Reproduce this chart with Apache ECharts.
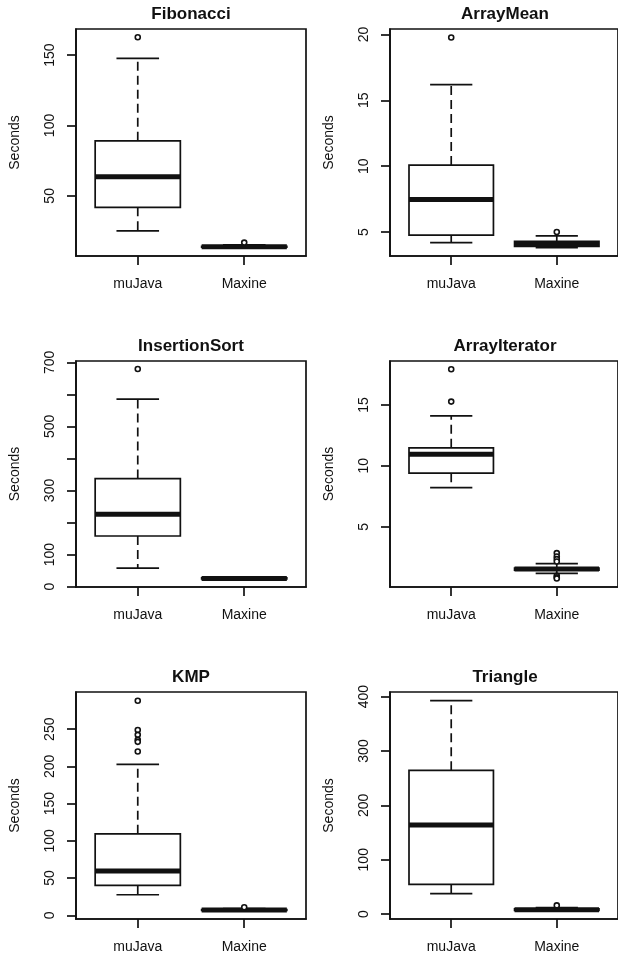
<!DOCTYPE html>
<html>
<head>
<meta charset="utf-8">
<script src="https://cdn.jsdelivr.net/npm/echarts@6/dist/echarts.min.js"></script>
<style>
  html, body { margin: 0; padding: 0; background: #fff; }
  #chart { width: 618px; height: 957px; }
</style>
</head>
<body>
<div id="chart"></div>
<script>
const groups = ["muJava", "Maxine"];

// box rows: [group, lower whisker, Q1, median, Q3, upper whisker]
const fibBox = [[1, 25.1, 41.9, 63.5, 89.1, 147.6], [2, 13.3, 13.5, 13.8, 14.2, 15.2]];
const fibOut = [[1, 162.6], [2, 16.8]];
const meanBox = [[1, 4.19, 4.77, 7.47, 10.08, 16.19], [2, 3.81, 3.9, 4.1, 4.3, 4.7]];
const meanOut = [[1, 19.77], [2, 5.0]];
const sortBox = [[1, 58, 158, 226, 337, 585], [2, 22, 24, 25, 27, 29]];
const sortOut = [[1, 679]];
const iterBox = [[1, 8.22, 9.4, 10.96, 11.48, 14.1], [2, 1.18, 1.45, 1.53, 1.62, 1.97]];
const iterOut = [[1, 17.92], [1, 15.27], [2, 2.84], [2, 2.56], [2, 2.35], [2, 2.15], [2, 0.98], [2, 0.85], [2, 0.76]];
const kmpBox = [[1, 27.6, 40.1, 59.4, 109.4, 202.7], [2, 6, 6.5, 7, 7.6, 9]];
const kmpOut = [[1, 288.3], [1, 249], [1, 242.4], [1, 235.7], [1, 233], [1, 220], [2, 10.7]];
const triBox = [[1, 37.5, 54.5, 163.7, 264.5, 392.6], [2, 6.3, 7, 8, 9.5, 12]];
const triOut = [[2, 16]];

const fibTicks = [50, 100, 150];
const meanTicks = [5, 10, 15, 20];
const sortTicks = [0, 100, 200, 300, 400, 500, 600, 700];
const sortLabels = [0, 100, 300, 500, 700];
const iterTicks = [5, 10, 15];
const kmpTicks = [0, 50, 100, 150, 200, 250];
const triTicks = [0, 100, 200, 300, 400];

const panels = [
  { title: "Fibonacci", box: fibBox, out: fibOut, min: 7.3, max: 168.5, ticks: fibTicks, labels: fibTicks, left: 76, top: 29, height: 227 },
  { title: "ArrayMean", box: meanBox, out: meanOut, min: 3.18, max: 20.41, ticks: meanTicks, labels: meanTicks, left: 390, top: 29, height: 227 },
  { title: "InsertionSort", box: sortBox, out: sortOut, min: -1.2, max: 704, ticks: sortTicks, labels: sortLabels, left: 76, top: 361, height: 226 },
  { title: "ArrayIterator", box: iterBox, out: iterOut, min: 0.06, max: 18.6, ticks: iterTicks, labels: iterTicks, left: 390, top: 361, height: 226 },
  { title: "KMP", box: kmpBox, out: kmpOut, min: -5, max: 300, ticks: kmpTicks, labels: kmpTicks, left: 76, top: 692, height: 227 },
  { title: "Triangle", box: triBox, out: triOut, min: -9, max: 408.5, ticks: triTicks, labels: triTicks, left: 390, top: 692, height: 227 },
];

const font = "Liberation Sans, Arial, Helvetica, sans-serif";
const ink = "#111";
const plotWidth = 230;
const lw = 1.7;

function renderBox(params, api) {
  const x = api.value(0);
  const low = api.coord([x, api.value(1)]);
  const q1 = api.coord([x, api.value(2)]);
  const med = api.coord([x, api.value(3)]);
  const q3 = api.coord([x, api.value(4)]);
  const high = api.coord([x, api.value(5)]);
  const half = api.size([0.4, 0])[0];
  const cap = half / 2;
  const cx = med[0];
  const solid = { stroke: ink, lineWidth: lw, fill: null };
  const dashed = { stroke: ink, lineWidth: lw, lineDash: [9, 5] };
  const seg = (x1, y1, x2, y2, style) => ({ type: "line", shape: { x1, y1, x2, y2 }, style });
  return {
    type: "group",
    children: [
      seg(cx, q3[1], cx, high[1], dashed),
      seg(cx, q1[1], cx, low[1], dashed),
      seg(cx - cap, high[1], cx + cap, high[1], solid),
      seg(cx - cap, low[1], cx + cap, low[1], solid),
      { type: "rect", shape: { x: cx - half, y: q3[1], width: half * 2, height: q1[1] - q3[1] }, style: { stroke: ink, lineWidth: lw, fill: "#fff" } },
      seg(cx - half, med[1], cx + half, med[1], { stroke: ink, lineWidth: 5 }),
    ],
  };
}

const option = {
  animation: false,
  backgroundColor: "#fff",
  title: [],
  grid: [],
  xAxis: [],
  yAxis: [],
  series: [],
};

panels.forEach((p, i) => {
  option.title.push({
    text: p.title,
    left: p.left + plotWidth / 2,
    top: p.top - 23,
    textAlign: "center",
    padding: 0,
    textStyle: { fontFamily: font, fontSize: 17, fontWeight: "bold", color: ink },
  });
  option.grid.push({
    left: p.left,
    top: p.top,
    width: plotWidth,
    height: p.height,
    show: true,
    borderColor: ink,
    borderWidth: lw,
    backgroundColor: "transparent",
  });
  option.xAxis.push({
    type: "value",
    gridIndex: i,
    min: 0.42,
    max: 2.58,
    splitLine: { show: false },
    axisLine: { onZero: false, lineStyle: { color: ink, width: lw } },
    axisTick: { customValues: [1, 2], length: 9, lineStyle: { color: ink, width: lw } },
    axisLabel: {
      customValues: [1, 2],
      formatter: (v) => groups[Math.round(v) - 1],
      margin: 21,
      fontFamily: font,
      fontSize: 14,
      color: ink,
    },
  });
  option.yAxis.push({
    type: "value",
    gridIndex: i,
    min: p.min,
    max: p.max,
    name: "Seconds",
    nameLocation: "middle",
    nameGap: 54,
    nameTextStyle: { fontFamily: font, fontSize: 14, color: ink },
    splitLine: { show: false },
    axisLine: { onZero: false, lineStyle: { color: ink, width: lw } },
    axisTick: { customValues: p.ticks, length: 9, lineStyle: { color: ink, width: lw } },
    axisLabel: {
      customValues: p.labels,
      rotate: 90,
      margin: 19,
      fontFamily: font,
      fontSize: 14,
      color: ink,
    },
  });
  option.series.push({
    type: "custom",
    xAxisIndex: i,
    yAxisIndex: i,
    renderItem: renderBox,
    data: p.box,
    clip: false,
  });
  option.series.push({
    type: "scatter",
    xAxisIndex: i,
    yAxisIndex: i,
    data: p.out,
    symbol: "circle",
    symbolSize: 5,
    itemStyle: { color: "#fff", borderColor: ink, borderWidth: 1.6, opacity: 1 },
    z: 5,
  });
});

const chart = echarts.init(document.getElementById("chart"));
chart.setOption(option);
</script>
</body>
</html>
